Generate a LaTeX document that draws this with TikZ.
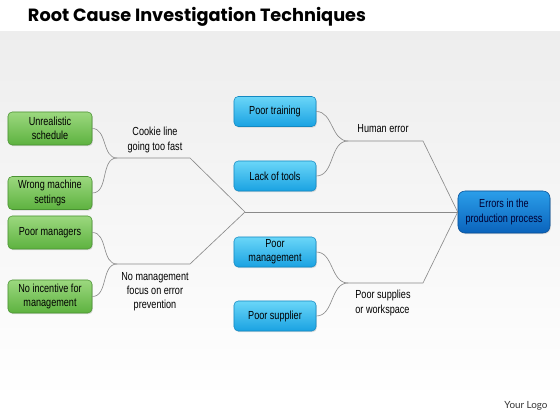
\documentclass[tikz,border=0pt]{standalone}
\usepackage{fontspec}
\usepackage{tikz}
\usetikzlibrary{positioning,shadows}
\newfontfamily\titlefont{Poppins}
\newfontfamily\boxfont[FakeStretch=0.78]{Liberation Sans}
\newfontfamily\logofont{Lato}
\definecolor{grtop}{HTML}{9CD87F}
\definecolor{grbot}{HTML}{5DB23F}
\definecolor{grline}{HTML}{4A9232}
\definecolor{bltop}{HTML}{6AD6F8}
\definecolor{blbot}{HTML}{1AA2E2}
\definecolor{blline}{HTML}{1489C2}
\definecolor{ertop}{HTML}{2B9EE9}
\definecolor{erbot}{HTML}{0A63BC}
\definecolor{bone}{HTML}{8A8A8A}
\tikzset{
  cause/.style={rectangle, rounded corners=3pt, align=center, inner sep=1pt,
    font=\boxfont\fontsize{8.3}{10}\selectfont, text=black,
    drop shadow={opacity=0.25, shadow xshift=0.6pt, shadow yshift=-0.8pt}},
  green/.style={cause, top color=grtop, bottom color=grbot, draw=grline,
    minimum width=2.1cm, minimum height=0.825cm},
  blue/.style={cause, top color=bltop, bottom color=blbot, draw=blline,
    minimum width=2.05cm, minimum height=0.75cm},
  bone/.style={draw=bone, line width=0.45pt},
  tag/.style={align=center, font=\boxfont\fontsize{8.3}{10}\selectfont, text=black}
}
\begin{document}
\begin{tikzpicture}[x=0.025cm,y=-0.025cm]
      \useasboundingbox (0,0) rectangle (560,420);
      \fill[white] (0,0) rectangle (560,420);
      \shade[top color=black!7, bottom color=white] (0,32) rectangle (560,400);

      \node[anchor=base west, font=\titlefont\bfseries\fontsize{12.6}{15}\selectfont] (title) at (23,22)
        {Root Cause Investigation Techniques};

      % causes on the left
      \node[green] (us) at (50,128.5) {Unrealistic\\schedule};
      \node[green] (wm) at (50,193) {Wrong machine\\settings};
      \node[green] (pm) at (50,232.5) {Poor managers};
      \node[green] (ni) at (50,296.5) {No incentive for\\management};

      % causes on the right
      \node[blue] (pt) at (275,111.5) {Poor training};
      \node[blue] (lt) at (275,176) {Lack of tools};
      \node[blue] (pg) at (275,252) {Poor\\management};
      \node[blue] (ps) at (275,316) {Poor supplier};

      \node[cause, top color=ertop, bottom color=erbot, draw=erbot!80!black,
        minimum width=2.3cm, minimum height=1.05cm, rounded corners=5pt,
        text=blue!20!black] (err) at (504,212) {Errors in the\\production process};

      \coordinate (jl1) at (117,158);  \coordinate (kl1) at (190,158);
      \coordinate (jl2) at (117,264);  \coordinate (kl2) at (190,264);
      \coordinate (s)   at (245,212);
      \coordinate (jr1) at (348,141);  \coordinate (kr1) at (423,141);
      \coordinate (jr2) at (348,283);  \coordinate (kr2) at (423,283);

      \path[bone]
          (us) edge [out=0, in=180] (jl1)
          (wm) edge [out=0, in=180] (jl1)
          (pm) edge [out=0, in=180] (jl2)
          (ni) edge [out=0, in=180] (jl2)
          (pt) edge [out=0, in=180] (jr1)
          (lt) edge [out=0, in=180] (jr1)
          (pg) edge [out=0, in=180] (jr2)
          (ps) edge [out=0, in=180] (jr2)
      ;
      \draw[bone] (jl1) -- (kl1) -- (s);
      \draw[bone] (jl2) -- (kl2) -- (s);
      \draw[bone] (jr1) -- (kr1) -- (err.west);
      \draw[bone] (jr2) -- (kr2) -- (err.west);
      \draw[bone] (s) -- (err.west);

      \node[tag] (cl) at (155,140) {Cookie line\\going too fast};
      \node[tag] (nm) at (155,292) {No management\\focus on error\\prevention};
      \node[tag] (he) at (383,129) {Human error};
      \node[tag, align=left] (sw) at (383,303) {Poor supplies\\or workspace};

      \node[font=\logofont\fontsize{7}{8}\selectfont, text=black!80] (logo) at (526,406) {Your Logo};
  \end{tikzpicture}
\end{document}
